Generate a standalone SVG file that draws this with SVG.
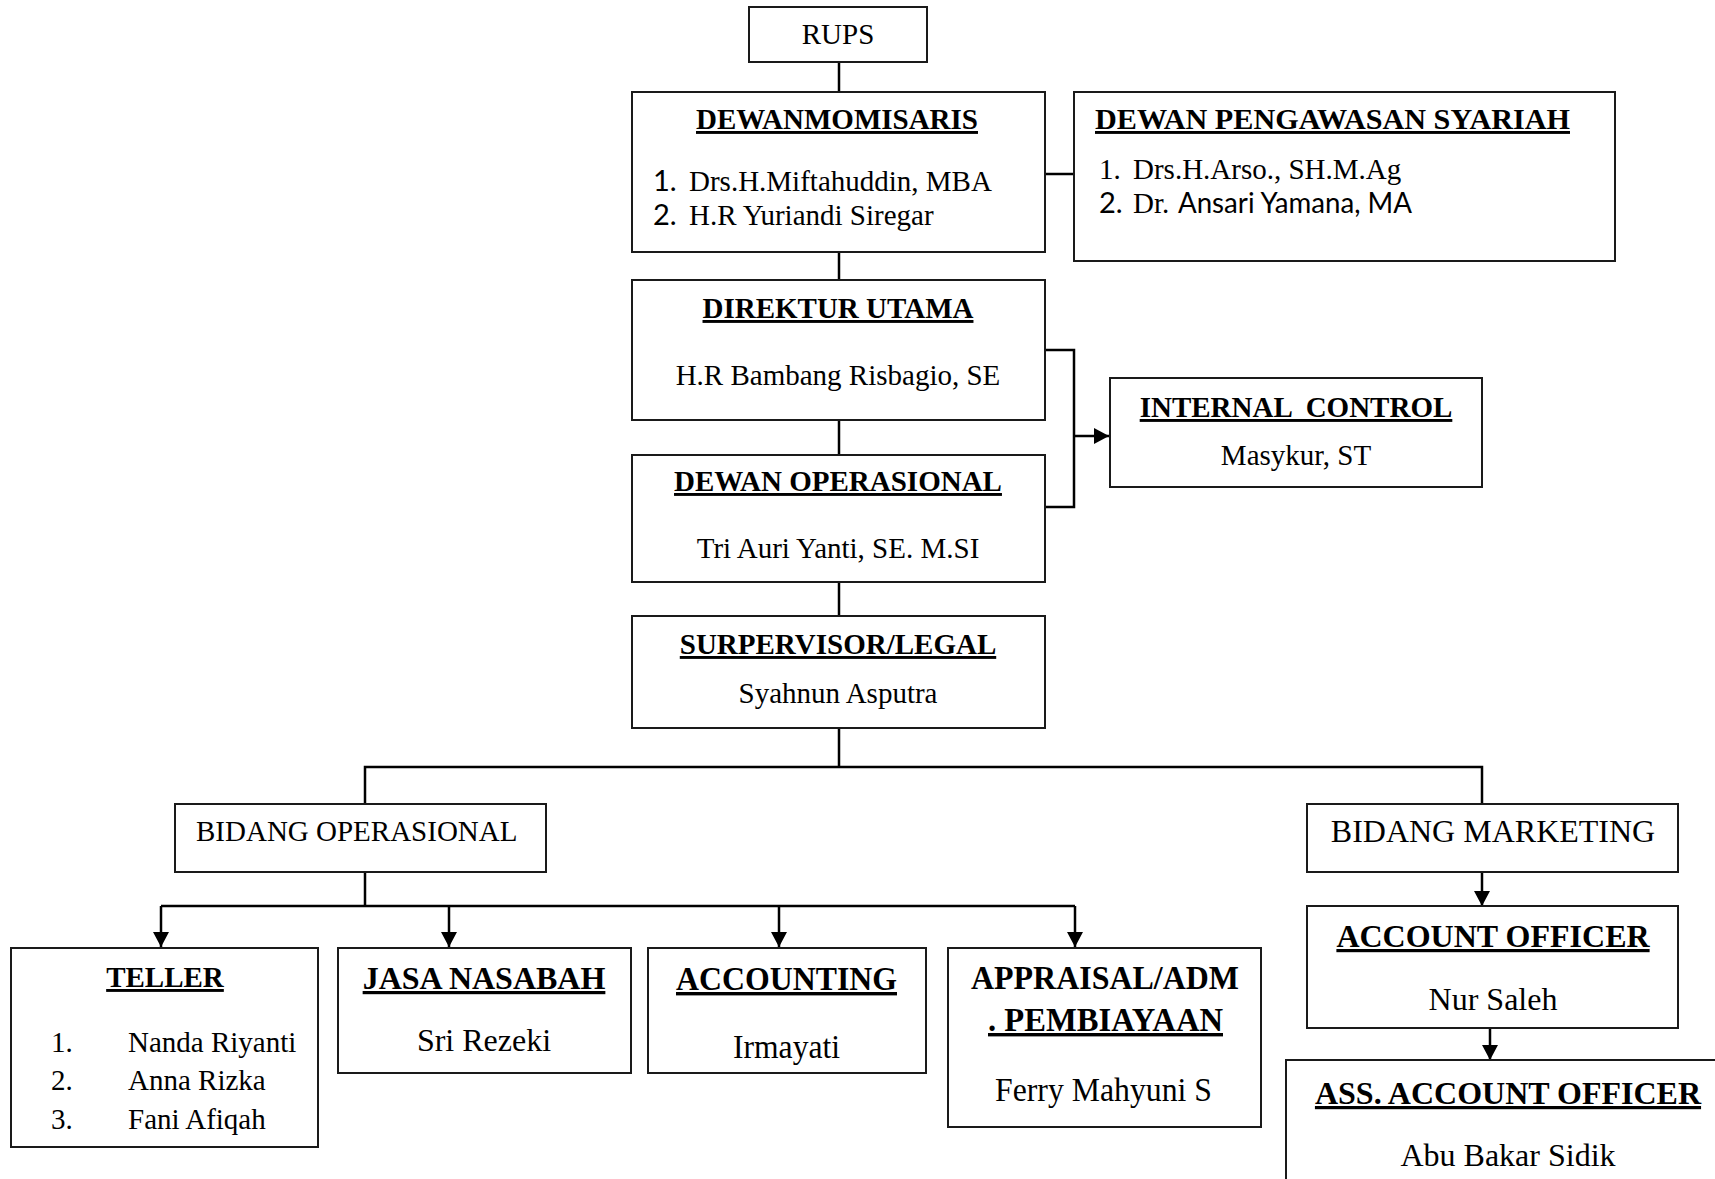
<svg xmlns="http://www.w3.org/2000/svg" width="1715" height="1179" viewBox="0 0 1715 1179">
<style>
.box{fill:#fff;stroke:#1a1a1a;stroke-width:2}
.ln{fill:none;stroke:#000;stroke-width:2.5}
text{font-family:"Liberation Serif","Times New Roman",serif;fill:#000;font-size:29px}
.t{font-weight:bold;text-decoration:underline;text-anchor:middle}
.c{text-anchor:middle}
.s{font-family:Lato,"Liberation Sans",sans-serif}
.b32{font-size:32px}
</style>
<defs>
<marker id="ah" markerWidth="16" markerHeight="16" refX="15" refY="8" orient="auto" markerUnits="userSpaceOnUse">
<path d="M0,0 L15,8 L0,16 Z" fill="#000"/>
</marker>
</defs>
<g id="connectors">
<path class="ln" d="M839,62 V92"/>
<path class="ln" d="M1045,174 H1074"/>
<path class="ln" d="M839,252 V280"/>
<path class="ln" d="M839,420 V455"/>
<path class="ln" d="M839,582 V616"/>
<path class="ln" d="M1045,350 H1074 V507 H1045"/>
<path class="ln" d="M1074,436 H1109" marker-end="url(#ah)"/>
<path class="ln" d="M839,728 V767 M365,804 V767 H1482 V804"/>
<path class="ln" d="M365,872 V906 M161,906 H1075"/>
<path class="ln" d="M161,906 V947" marker-end="url(#ah)"/>
<path class="ln" d="M449,906 V947" marker-end="url(#ah)"/>
<path class="ln" d="M779,906 V947" marker-end="url(#ah)"/>
<path class="ln" d="M1075,906 V947" marker-end="url(#ah)"/>
<path class="ln" d="M1482,872 V906" marker-end="url(#ah)"/>
<path class="ln" d="M1490,1028 V1060" marker-end="url(#ah)"/>
</g>
<g id="rups">
<rect class="box" x="749" y="7" width="178" height="55"/>
<text class="c" x="838" y="44">RUPS</text>
</g>
<g id="dewan-komisaris">
<rect class="box" x="632" y="92" width="413" height="160"/>
<text class="t" x="837" y="129">DEWANMOMISARIS</text>
<text class="s" x="653" y="191">1.</text>
<text x="689" y="191">Drs.H.Miftahuddin, MBA</text>
<text class="s" x="653" y="225">2.</text>
<text x="689" y="225">H.R Yuriandi Siregar</text>
</g>
<g id="dewan-pengawasan-syariah">
<rect class="box" x="1074" y="92" width="541" height="169"/>
<text x="1095" y="129" style="font-weight:bold;text-decoration:underline" textLength="475" lengthAdjust="spacingAndGlyphs">DEWAN PENGAWASAN SYARIAH</text>
<text x="1099" y="179">1.</text>
<text x="1133" y="179">Drs.H.Arso., SH.M.Ag</text>
<text class="s" x="1099" y="213">2.</text>
<text x="1133" y="213">Dr.</text>
<text class="s" x="1178" y="213" textLength="234" lengthAdjust="spacingAndGlyphs">Ansari Yamana, MA</text>
</g>
<g id="direktur-utama">
<rect class="box" x="632" y="280" width="413" height="140"/>
<text class="t" x="838" y="318">DIREKTUR UTAMA</text>
<text class="c" x="838" y="385">H.R Bambang Risbagio, SE</text>
</g>
<g id="dewan-operasional">
<rect class="box" x="632" y="455" width="413" height="127"/>
<text class="t" x="838" y="491">DEWAN OPERASIONAL</text>
<text class="c" x="838" y="558">Tri Auri Yanti, SE. M.SI</text>
</g>
<g id="internal-control">
<rect class="box" x="1110" y="378" width="372" height="109"/>
<text class="t" x="1296" y="417" xml:space="preserve">INTERNAL  CONTROL</text>
<text class="c" x="1296" y="465">Masykur, ST</text>
</g>
<g id="supervisor-legal">
<rect class="box" x="632" y="616" width="413" height="112"/>
<text class="t" x="838" y="654">SURPERVISOR/LEGAL</text>
<text class="c" x="838" y="703">Syahnun Asputra</text>
</g>
<g id="bidang-operasional">
<rect class="box" x="175" y="804" width="371" height="68"/>
<text x="196" y="841">BIDANG OPERASIONAL</text>
</g>
<g id="bidang-marketing">
<rect class="box" x="1307" y="804" width="371" height="68"/>
<text class="c b32" x="1493" y="842">BIDANG MARKETING</text>
</g>
<g id="teller">
<rect class="box" x="11" y="948" width="307" height="199"/>
<text class="t" x="165" y="987">TELLER</text>
<text x="51" y="1052">1.</text>
<text x="128" y="1052">Nanda Riyanti</text>
<text x="51" y="1090">2.</text>
<text x="128" y="1090">Anna Rizka</text>
<text x="51" y="1129">3.</text>
<text x="128" y="1129">Fani Afiqah</text>
</g>
<g id="jasa-nasabah">
<rect class="box" x="338" y="948" width="293" height="125"/>
<text class="t b32" x="484" y="989">JASA NASABAH</text>
<text class="c b32" x="484" y="1051">Sri Rezeki</text>
</g>
<g id="accounting">
<rect class="box" x="648" y="948" width="278" height="125"/>
<text class="t" x="676" y="990" style="font-size:34px;text-anchor:start" textLength="221" lengthAdjust="spacingAndGlyphs">ACCOUNTING</text>
<text x="733" y="1058" style="font-size:34px" textLength="107" lengthAdjust="spacingAndGlyphs">Irmayati</text>
</g>
<g id="appraisal">
<rect class="box" x="948" y="948" width="313" height="179"/>
<text x="971" y="989" style="font-size:34px;font-weight:bold" textLength="268" lengthAdjust="spacingAndGlyphs">APPRAISAL/ADM</text>
<text x="988" y="1031" style="font-size:34px;font-weight:bold;text-decoration:underline" textLength="235" lengthAdjust="spacingAndGlyphs">. PEMBIAYAAN</text>
<text x="995" y="1101" style="font-size:34px" textLength="217" lengthAdjust="spacingAndGlyphs">Ferry Mahyuni S</text>
</g>
<g id="account-officer">
<rect class="box" x="1307" y="906" width="371" height="122"/>
<text class="t b32" x="1493" y="947">ACCOUNT OFFICER</text>
<text class="c b32" x="1493" y="1010">Nur Saleh</text>
</g>
<g id="ass-account-officer">
<rect class="box" x="1286" y="1060" width="440" height="130"/>
<text class="t b32" x="1508" y="1104">ASS. ACCOUNT OFFICER</text>
<text class="c b32" x="1508" y="1166">Abu Bakar Sidik</text>
</g>
</svg>
